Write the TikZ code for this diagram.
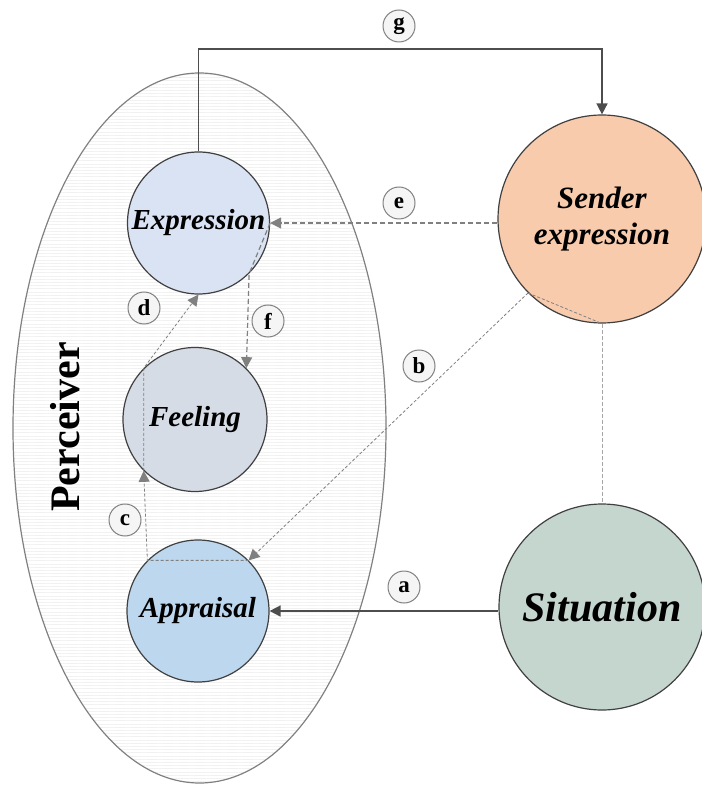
\documentclass[tikz,border=0pt]{standalone}
\usepackage{fontspec}
\setmainfont{Liberation Serif}
\usetikzlibrary{
  calc,
  positioning,
  arrows.meta,
  patterns.meta}
\definecolor{exprblue}{HTML}{DAE3F3}
\definecolor{feelgray}{HTML}{D6DCE5}
\definecolor{apprblue}{HTML}{BDD7EE}
\definecolor{sendpeach}{HTML}{F8CBAD}
\definecolor{sitgreen}{HTML}{C5D6CF}
\definecolor{edgegray}{HTML}{404040}
\definecolor{arrowgray}{HTML}{4D4D4D}

\begin{document}
\begin{tikzpicture}[
  x=0.5pt, y=-0.5pt,
  >={Triangle[length=5.5pt,width=5.5pt]},
  line width=0.6pt,
  bubble/.style={circle,draw=edgegray,line width=0.6pt,inner sep=0pt,align=center,
    font=\bfseries\itshape\fontsize{14.5}{18}\selectfont},
  tag/.style={circle,draw=gray,fill=gray!8,line width=0.5pt,inner sep=0pt,minimum size=16pt,
    font=\bfseries\fontsize{11.5}{11.5}\selectfont},
  solidarrow/.style={->,draw=arrowgray,line width=0.8pt},
  dasharrow/.style={->,draw=gray,line width=0.6pt,dash pattern=on 2.5pt off 1.5pt},
  finedash/.style={draw=gray,line width=0.4pt,dash pattern=on 1.5pt off 1pt},
  lightdash/.style={draw=gray!70,line width=0.5pt,dash pattern=on 2pt off 1pt}
]%
  \useasboundingbox (0,0) rectangle (701,785);

  \path[draw=gray,line width=0.6pt,pattern={Lines[angle=0,distance=1.6pt,line width=0.5pt]},pattern color=gray!11]
    (199.5,428) ellipse [x radius=186.5,y radius=355];
  \node (perceiver) [rotate=90,font=\bfseries\fontsize{21}{24}\selectfont] at (65,427) {Perceiver};

  \node (expression) [bubble,fill=exprblue,minimum size=71pt] at (198.5,223) {Expression};
  \node (feeling) [bubble,fill=feelgray,minimum size=72pt] at (195,419.5) {Feeling};
  \node (appraisal) [bubble,fill=apprblue,minimum size=71pt] at (198,611) {Appraisal};
  \node (sender) [bubble,fill=sendpeach,minimum size=104pt,
    font=\bfseries\itshape\fontsize{15.5}{18}\selectfont] at (602,219) {Sender\\expression};
  \node (situation) [bubble,fill=sitgreen,minimum size=103pt,
    font=\bfseries\itshape\fontsize{21}{24}\selectfont] at (602,607) {Situation};

  \coordinate (gtop) at (400,49);
  \draw[solidarrow] (expression.north) -- (expression.north |- gtop) -| (sender.north);
  \draw[solidarrow] (situation.west |- appraisal.east) -- (appraisal.east);
  \draw[dasharrow] (sender.west |- expression.east) -- (expression.east);
  \draw[dasharrow] (expression.east) -- (expression.south east) -- (feeling.north east);
  \draw[finedash,->] (sender.south west) -- (appraisal.north east);
  \draw[finedash] (sender.south west) -- (sender.south);
  \draw[lightdash] (sender.south) -- (situation.north);
  \draw[finedash,->] (appraisal.north east) -- (appraisal.north west) -- (feeling.south west);
  \draw[finedash,->] (feeling.south west) -- (feeling.north west) -- (expression.south);

  \node (tagA) [tag] at (404,587) {a};
  \node (tagB) [tag] at (419,366) {b};
  \node (tagC) [tag] at (125,520) {c};
  \node (tagD) [tag] at (144,308) {d};
  \node (tagE) [tag] at (399,203) {e};
  \node (tagF) [tag] at (268,321) {f};
  \node (tagG) [tag] at (399,26) {g};
\end{tikzpicture}
\end{document}
